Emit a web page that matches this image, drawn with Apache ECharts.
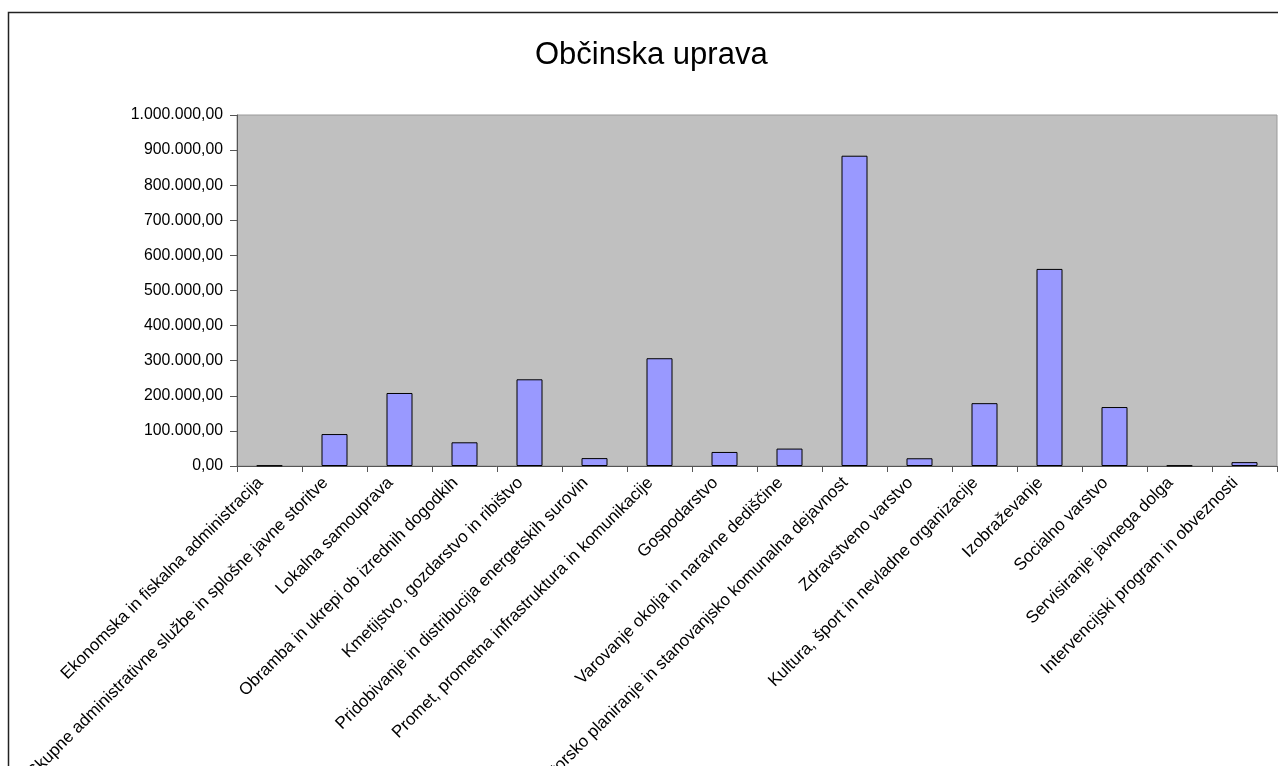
<!DOCTYPE html>
<html lang="sl">
<head>
    <meta charset="UTF-8">
    <title>Občinska uprava</title>
    <script src="https://cdn.jsdelivr.net/npm/echarts@6/dist/echarts.min.js"></script>
    <style type="text/css">
        html, body { margin: 0; padding: 0; background: #fff; }
        #chart { width: 1278px; height: 766px; }
    </style>
</head>
<body>
<div id="chart"></div>
<script type="text/javascript">
// podatki
var categories = [
    'Ekonomska in fiskalna administracija',
    'Skupne administrativne službe in splošne javne storitve',
    'Lokalna samouprava',
    'Obramba in ukrepi ob izrednih dogodkih',
    'Kmetijstvo, gozdarstvo in ribištvo',
    'Pridobivanje in distribucija energetskih surovin',
    'Promet, prometna infrastruktura in komunikacije',
    'Gospodarstvo',
    'Varovanje okolja in naravne dediščine',
    'Prostorsko planiranje in stanovanjsko komunalna dejavnost',
    'Zdravstveno varstvo',
    'Kultura, šport in nevladne organizacije',
    'Izobraževanje',
    'Socialno varstvo',
    'Servisiranje javnega dolga',
    'Intervencijski program in obveznosti'
];
var values = [1500, 91000, 208000, 67500, 247000, 22500, 307000, 40000, 49600, 884000, 22000, 179000, 561500, 168000, 1500, 11000];
var yMin = 0, yMax = 1000000, yStep = 100000;

function fmt(v) {
    var s = Math.round(v).toString().replace(/\B(?=(\d{3})+(?!\d))/g, '.');
    return s + ',00';
}

var chart = echarts.init(document.getElementById('chart'));
var font = '"Liberation Sans", Arial, sans-serif';

var option = {
    animation: false,
    textStyle: { fontFamily: font },
    title: {
        text: 'Občinska uprava',
        left: 530,
        top: 35,
        textStyle: { fontFamily: font, fontSize: 31, fontWeight: 'normal', color: '#000' }
    },
    graphic: [{
        type: 'rect',
        z: -10,
        shape: { x: 8.5, y: 12.5, width: 1300, height: 800 },
        style: { fill: 'none', stroke: '#222', lineWidth: 1.5 }
    }],
    grid: {
        left: 237,
        top: 115,
        width: 1040,
        height: 351,
        show: true,
        backgroundColor: '#C0C0C0',
        borderColor: '#9a9a9a',
        borderWidth: 1,
        outerBoundsMode: 'none'
    },
    xAxis: {
        type: 'category',
        data: categories,
        axisLine: { lineStyle: { color: '#555', width: 1 } },
        axisTick: { show: true, length: 6, lineStyle: { color: '#555' }, interval: 0 },
        axisLabel: {
            interval: 0,
            rotate: 45,
            margin: 5,
            padding: [0, 13, 0, 0],
            color: '#000',
            fontSize: 17,
            fontFamily: font
        },
        splitLine: { show: false }
    },
    yAxis: {
        type: 'value',
        min: yMin,
        max: yMax,
        interval: yStep,
        axisLine: { show: true, lineStyle: { color: '#555', width: 1 } },
        axisTick: { show: true, length: 7, lineStyle: { color: '#555' } },
        axisLabel: {
            margin: 14,
            color: '#000',
            fontSize: 15.8,
            fontFamily: font,
            formatter: fmt
        },
        splitLine: { show: false }
    },
    series: [{
        type: 'bar',
        data: values,
        barWidth: 26,
        itemStyle: { color: '#9999FF', borderColor: '#000', borderWidth: 1 }
    }]
};
chart.setOption(option);
</script>
</body>
</html>
